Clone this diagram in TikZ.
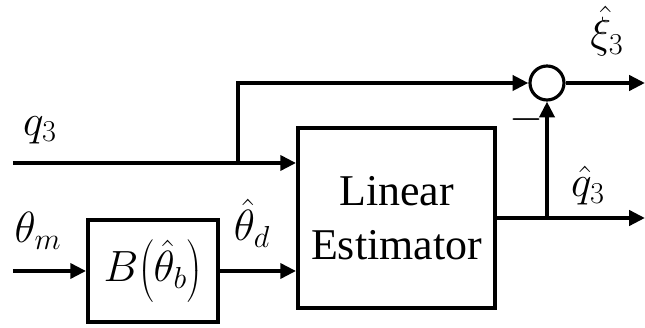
\documentclass[tikz,border=0pt]{standalone}
\usepackage{fontspec}
\setmainfont{Liberation Serif}
\usetikzlibrary{arrows.meta}

\begin{document}
\begin{tikzpicture}[
  x=1cm, y=1cm,
  every node/.style={inner sep=1pt, font=\fontsize{25}{30}\selectfont},
  blk/.style={draw, line width=2.2pt, inner sep=0pt},
  sumj/.style={circle, draw, line width=1.8pt, minimum size=0.68cm, inner sep=0pt},
  wire/.style={draw, line width=2.3pt},
  arrow/.style={draw, line width=2.3pt, -{Triangle[length=9pt, width=8.5pt]}}]

  \useasboundingbox (0,0) rectangle (12.90,6.56);

  % blocks
  \node[blk, minimum width=3.94cm, minimum height=3.60cm, align=center,
        font=\fontsize{25}{31}\selectfont] (est) at (7.93,2.20) {Linear\\Estimator};
  \node[blk, minimum width=2.60cm, minimum height=2.04cm] (bb) at (3.06,1.14)
        {$B\mathopen{}\left(\hat{\theta}_b\right)$};
  \node[sumj] (sum) at (10.94,4.90) {};

  % free ends and branch points
  \coordinate (q3in)  at (0.26,3.30);
  \coordinate (thin)  at (0.26,1.14);
  \coordinate (q3br)  at (4.76,3.30);
  \coordinate (q3up)  at (4.76,4.90);
  \coordinate (xiout) at (12.90,4.90);
  \coordinate (qhbr)  at (10.94,2.20);
  \coordinate (qhout) at (12.90,2.20);

  % arrows
  \draw[arrow] (q3in) -- (est.west |- q3in);
  \draw[arrow] (thin) -- (bb.west);
  \draw[arrow] (bb.east) -- (est.west |- bb.east);
  \draw[arrow] (q3br) -- (q3up) -- (sum.west);
  \draw[arrow] (sum.east) -- (xiout);
  \draw[arrow] (est.east |- qhout) -- (qhout);
  \draw[arrow] (qhbr) -- (sum.south);

  % labels printed inside the picture
  \node (lq3)  at (0.80,3.96)  {$q_3$};
  \node (lthm) at (0.76,1.94)  {$\theta_m$};
  \node (lthd) at (5.04,2.10)  {$\hat{\theta}_d$};
  \node (lxi)  at (12.14,5.94) {$\hat{\xi}_3$};
  \node (lqh)  at (11.76,2.84) {$\hat{q}_3$};
  \node (lneg) at (10.52,4.16) {$-$};
\end{tikzpicture}
\end{document}
